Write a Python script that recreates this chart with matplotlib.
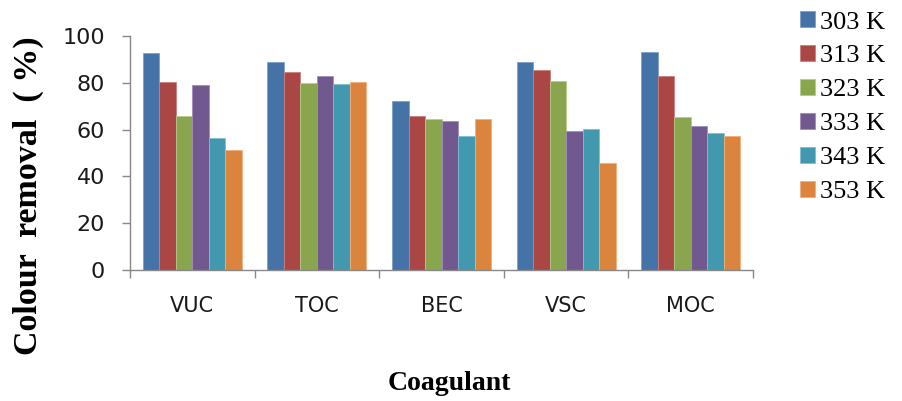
import matplotlib.pyplot as plt
import numpy as np

coagulants = ["VUC", "TOC", "BEC", "VSC", "MOC"]
temperatures = ["303 K", "313 K", "323 K", "333 K", "343 K", "353 K"]

# colour removal (%) per coagulant, one list per temperature
removal_303 = [92.7, 88.9, 72.1, 89.1, 93.3]
removal_313 = [80.2, 84.5, 65.9, 85.4, 83.1]
removal_323 = [65.9, 80.1, 64.5, 80.8, 65.3]
removal_333 = [79.2, 83.1, 63.7, 59.3, 61.6]
removal_343 = [56.3, 79.4, 57.2, 60.2, 58.5]
removal_353 = [51.1, 80.2, 64.5, 45.8, 57.1]

series = [removal_303, removal_313, removal_323, removal_333, removal_343, removal_353]
colors = ["#4572A7", "#AA4643", "#89A54E", "#71588F", "#4198AF", "#DB843D"]
edges = ["#7FA0CC", "#CC7E7C", "#B5CC8A", "#A08DBD", "#7EC0D2", "#F0AE7C"]

fig = plt.figure(figsize=(9.03, 4.01), dpi=100)
ax = fig.add_axes([0.144, 0.327, 0.690, 0.583])

x = np.arange(len(coagulants))
width = 0.1325
for i, (vals, c, ec) in enumerate(zip(series, colors, edges)):
    offs = (i - 2.5) * width
    ax.bar(x + offs, vals, width, color=c, edgecolor=ec, linewidth=0.6,
           label=temperatures[i], zorder=2)

ax.set_xlim(-0.5, len(coagulants) - 0.5)
ax.set_ylim(0, 100)
ax.set_yticks(np.arange(0, 101, 20))

# category labels centred, tick marks at group boundaries
ax.set_xticks(x)
ax.set_xticklabels(coagulants, family="DejaVu Sans", fontsize=15, color="#1a1a1a")
ax.tick_params(axis="x", length=0, pad=19)
ax.set_xticks(np.arange(-0.5, len(coagulants)), minor=True)
ax.tick_params(axis="x", which="minor", length=6, color="#888888", width=1)
ax.tick_params(axis="y", length=6, color="#888888", width=1, pad=12,
               labelsize=16, labelcolor="#1a1a1a")
for lab in ax.get_yticklabels():
    lab.set_family("DejaVu Sans")

for s in ["top", "right"]:
    ax.spines[s].set_visible(False)
for s in ["left", "bottom"]:
    ax.spines[s].set_color("#888888")
    ax.spines[s].set_linewidth(1)

fig.text(0.031, 0.511, "Colour  removal  ( %)", rotation=90, ha="center", va="center",
         family="Liberation Serif", fontweight="bold", fontsize=24.5)
fig.text(0.498, 0.027, "Coagulant", ha="center", va="baseline",
         family="Liberation Serif", fontweight="bold", fontsize=20)

leg = fig.legend(loc="upper left", bbox_to_anchor=(0.886, 0.972), frameon=False,
                 prop={"family": "Liberation Serif", "size": 19},
                 handlelength=0.55, handleheight=0.55, handletextpad=0.2,
                 labelspacing=0.44, borderaxespad=0.0, borderpad=0.0)

fig.savefig("out.png", dpi=100)
